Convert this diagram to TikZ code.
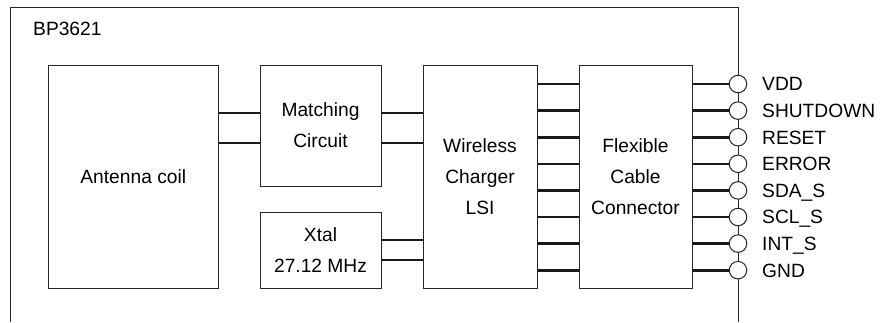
\documentclass[tikz,border=0pt]{standalone}
\usepackage{fontspec}
\setmainfont{Liberation Sans}
\begin{document}
\begin{tikzpicture}[x=1pt,y=-1pt,
  font=\fontsize{19.2}{31}\selectfont,
  blk/.style={draw=black!85, line width=1pt, inner sep=0, align=center, rectangle},
  wire/.style={line width=2.6pt, black!90},
  pin/.style={circle, draw=black!85, fill=white, line width=1pt, minimum size=17.5pt, inner sep=0},
  frame/.style={line width=1pt, black!85},
  pinlbl/.style={anchor=base west, inner sep=0}]
\useasboundingbox (0,0) rectangle (880,322);
% outer frame
\coordinate (fbl) at (10,322);
\coordinate (ftl) at (10,7);
\coordinate (ftr) at (738,7);
\coordinate (fbr) at (738,322);
\draw[frame] (fbl) -- (ftl) -- (ftr) -- (fbr);
\node[pinlbl] (chip) at (33,35) {BP3621};
% blocks
\node[blk, minimum width=169.5pt, minimum height=223pt] (ant) at (133.25,176.5) {Antenna coil};
\node[blk, minimum width=121pt, minimum height=121pt] (mat) at (320.5,125.5) {Matching\\Circuit};
\node[blk, minimum width=121pt, minimum height=76pt] (xtal) at (320.5,250) {Xtal\\27.12 MHz};
\node[blk, minimum width=114pt, minimum height=223pt] (lsi) at (480,176.5) {Wireless\\Charger\\LSI};
\node[blk, minimum width=113pt, minimum height=223pt] (fcc) at (635.5,176.5) {Flexible\\Cable\\Connector};
% wires
\foreach \y in {113,143}{
  \draw[wire] (ant.east |- 0,\y) -- (mat.west |- 0,\y);
  \draw[wire] (mat.east |- 0,\y) -- (lsi.west |- 0,\y);
}
\foreach \y in {240,260}{
  \draw[wire] (xtal.east |- 0,\y) -- (lsi.west |- 0,\y);
}
\foreach \y in {84,110.6,137.2,163.8,190.4,217,243.6,270.2}{
  \draw[wire] (lsi.east |- 0,\y) -- (fcc.west |- 0,\y);
}
% pins
\foreach \i/\y/\t in {1/84/VDD,2/110.6/SHUTDOWN,3/137.2/RESET,4/163.8/ERROR,5/190.4/SDA\_S,6/217/SCL\_S,7/243.6/INT\_S,8/270.2/GND}{
  \node[pin] (p\i) at (738,\y) {};
  \draw[wire] (fcc.east |- p\i) -- (p\i.west);
  \node[pinlbl] (l\i) at (762,\y+6.8) {\t};
}
\end{tikzpicture}
\end{document}
